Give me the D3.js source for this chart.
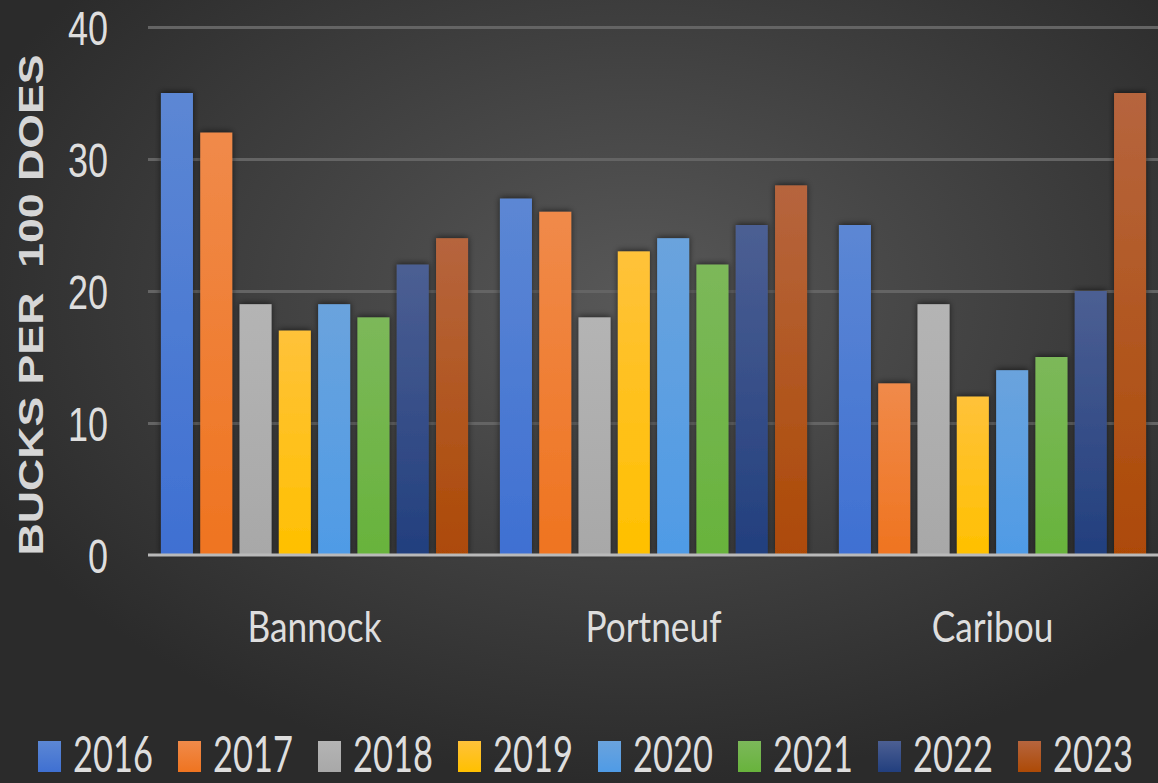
<!DOCTYPE html>
<html>
<head>
<meta charset="utf-8">
<script src="https://cdn.jsdelivr.net/npm/d3@7"></script>
<style>
  html, body { margin: 0; padding: 0; background: #2c2c2c; }
  svg { display: block; }
</style>
</head>
<body>
<svg id="chart" width="1158" height="783"></svg>
<script>
// ---- data ----
const categories = ["Bannock", "Portneuf", "Caribou"];
const years = ["2016", "2017", "2018", "2019", "2020", "2021", "2022", "2023"];
const s2016 = [35, 27, 25];
const s2017 = [32, 26, 13];
const s2018 = [19, 18, 19];
const s2019 = [17, 23, 12];
const s2020 = [19, 24, 14];
const s2021 = [18, 22, 15];
const s2022 = [22, 25, 20];
const s2023 = [24, 28, 35];
const yTicks = [0, 10, 20, 30, 40];
const yTitle = "BUCKS PER  100 DOES";

const seriesValues = [s2016, s2017, s2018, s2019, s2020, s2021, s2022, s2023];
const baseColors = ["#3f70d2", "#ef7420", "#a8a8a8", "#ffc000", "#4f9be6", "#68b33c", "#223f7e", "#ad4a06"];
const topColors  = ["#5c87d4", "#f08a4a", "#b4b4b4", "#ffc23a", "#6aa3dd", "#7cb85a", "#4c5f93", "#b6653e"];

const W = 1158, H = 783;
const svg = d3.select("#chart");
const defs = svg.append("defs");

// background
const bg = defs.append("radialGradient").attr("id", "bg")
  .attr("cx", "0.55").attr("cy", "0.38").attr("r", "0.62");
bg.append("stop").attr("offset", "0").attr("stop-color", "#585858");
bg.append("stop").attr("offset", "1").attr("stop-color", "#2b2b2b");
svg.append("rect").attr("width", W).attr("height", H).attr("fill", "url(#bg)");

// bar gradients
years.forEach((yr, i) => {
  const g = defs.append("linearGradient").attr("id", "g" + yr)
    .attr("x1", 0).attr("y1", 0).attr("x2", 0).attr("y2", 1);
  g.append("stop").attr("offset", "0").attr("stop-color", topColors[i]);
  g.append("stop").attr("offset", "1").attr("stop-color", baseColors[i]);
});
const sh = defs.append("filter").attr("id", "shadow")
  .attr("x", "-40%").attr("y", "-10%").attr("width", "180%").attr("height", "120%");
sh.append("feDropShadow").attr("dx", 0).attr("dy", -1).attr("stdDeviation", 3)
  .attr("flood-color", "#000").attr("flood-opacity", 0.6);

// scales
const x0 = d3.scaleBand().domain(categories).range([145, 1162]).padding(0);
const x1 = d3.scaleBand().domain(years).range([0, x0.bandwidth()])
  .paddingInner(0.186).paddingOuter(0.406);
const y = d3.scaleLinear().domain([0, 40]).range([555, 27]);

const plotLeft = 148, plotRight = W;

// gridlines
const grid = svg.append("g").attr("transform", `translate(${plotLeft},0)`)
  .call(d3.axisLeft(y).tickValues(yTicks.filter(v => v !== 0)).tickSize(-(plotRight - plotLeft)).tickFormat(""));
grid.select(".domain").remove();
grid.selectAll("line").attr("stroke", "#646464").attr("stroke-width", 3);

// bars
const groups = svg.append("g").selectAll("g")
  .data(categories).join("g")
  .attr("transform", d => `translate(${x0(d)},0)`);
groups.selectAll("rect")
  .data((c, ci) => years.map((yr, yi) => ({ yr, v: seriesValues[yi][ci] })))
  .join("rect")
  .attr("x", d => x1(d.yr))
  .attr("y", d => y(d.v))
  .attr("width", x1.bandwidth())
  .attr("height", d => y(0) - y(d.v))
  .attr("fill", d => `url(#g${d.yr})`)
  .attr("filter", "url(#shadow)");

// baseline
svg.append("line").attr("x1", plotLeft).attr("x2", plotRight)
  .attr("y1", y(0)).attr("y2", y(0))
  .attr("stroke", "#b9b9b9").attr("stroke-width", 3);

// y axis labels
const yAxis = svg.append("g").attr("transform", `translate(${plotLeft},0)`)
  .call(d3.axisLeft(y).tickValues(yTicks).tickSize(0).tickFormat(d3.format("d")));
yAxis.select(".domain").remove();
yAxis.selectAll("text")
  .attr("x", 0).attr("dy", "0.36em")
  .attr("transform", "translate(-40,0) scale(0.75,1)")
  .attr("fill", "#dedede")
  .style("font-family", "'Liberation Sans', Arial, sans-serif")
  .style("font-size", "48px");

// category labels
const xAxis = svg.append("g").attr("transform", `translate(0,642)`)
  .call(d3.axisBottom(x0).tickSize(0).tickPadding(0));
xAxis.select(".domain").remove();
xAxis.selectAll("text")
  .attr("y", 0).attr("dy", 0)
  .attr("transform", "scale(0.82,1)")
  .attr("fill", "#dedede")
  .style("font-family", "Lato, 'Open Sans', sans-serif")
  .style("font-size", "43px");

// y title
svg.append("text")
  .attr("transform", "translate(43,305) rotate(-90) scale(1.24,1)")
  .attr("text-anchor", "middle")
  .attr("fill", "#d6d6d6")
  .style("white-space", "pre")
  .style("font-family", "'Liberation Sans', Arial, sans-serif")
  .style("font-weight", "bold")
  .style("font-size", "36px")
  .text(yTitle);

// legend
const legend = svg.append("g").selectAll("g")
  .data(years).join("g")
  .attr("transform", (d, i) => `translate(${38 + i * 140},0)`);
legend.append("rect")
  .attr("x", 0).attr("y", 741).attr("width", 23).attr("height", 31)
  .attr("fill", (d) => `url(#g${d})`);
legend.append("text")
  .attr("transform", "translate(35,772) scale(0.69,1)")
  .attr("fill", "#dedede")
  .style("font-family", "Lato, 'Open Sans', sans-serif")
  .style("font-size", "50px")
  .text(d => d);
</script>
</body>
</html>
